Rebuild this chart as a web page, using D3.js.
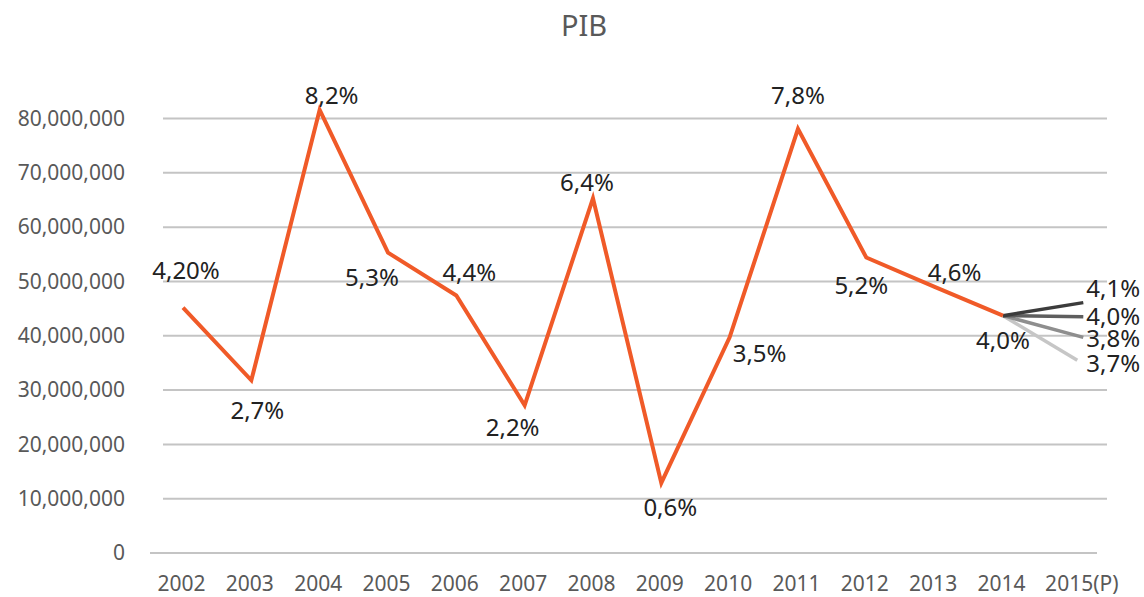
<!DOCTYPE html>
<html>
<head>
<meta charset="utf-8">
<script src="https://cdn.jsdelivr.net/npm/d3@7"></script>
<style>
  body { margin: 0; background: #fff; }
  text { font-family: "Noto Sans", "Open Sans", sans-serif; }
</style>
</head>
<body>
<div class="chart"></div>
<script>
const svgWidth = 1144
const svgHeight = 597

// ========================= DATA =========================
const years = ["2002", "2003", "2004", "2005", "2006", "2007", "2008", "2009", "2010", "2011", "2012", "2013", "2014", "2015(P)"]
const pib = [45.2e6, 31.8e6, 81.6e6, 55.3e6, 47.4e6, 27.2e6, 65.3e6, 12.9e6, 39.7e6, 78.1e6, 54.4e6, 49.0e6, 43.7e6]
const growthLabels = ["4,20%", "2,7%", "8,2%", "5,3%", "4,4%", "2,2%", "6,4%", "0,6%", "3,5%", "7,8%", "5,2%", "4,6%", "4,0%"]
const projValues = [46.1e6, 43.5e6, 39.7e6, 35.5e6]
const projLabels = ["4,1%", "4,0%", "3,8%", "3,7%"]
const yTicks = [0, 10e6, 20e6, 30e6, 40e6, 50e6, 60e6, 70e6, 80e6]

// label placement relative to each point (layout only)
const labelOffsets = [[3, -37], [6, 30], [12, -14], [-16, 25], [13, -23], [-12, 22], [-6, -16],
  [9, 25], [30, 16], [0, -33], [-5, 28], [20, -14], [0, 25]]
const projLabelShift = [-14, 0, 1, 3]
const projColors = ["#3c3c3c", "#5e5e5e", "#8e8e8e", "#c6c6c6"]
const projShift = 12

let svg = d3.select(".chart")
  .append("svg")
  .attr("width", svgWidth)
  .attr("height", svgHeight)

let x = d3.scalePoint()
  .domain(years)
  .range([183, 183 + 13 * 68.33])

let y = d3.scaleLinear()
  .domain([0, 80e6])
  .range([553, 118.5])

// title
svg.append("text")
  .attr("x", 584)
  .attr("y", 26)
  .attr("dy", "0.35em")
  .attr("text-anchor", "middle")
  .attr("fill", "#595959")
  .style("font-size", "29px")
  .text("PIB")

// gridlines
svg.append("g")
  .selectAll("line")
  .data(yTicks)
  .enter()
  .append("line")
  .attr("x1", d => d === 0 ? 150 : 163)
  .attr("x2", d => d === 0 ? 1097 : 1107)
  .attr("y1", d => y(d))
  .attr("y2", d => y(d))
  .attr("stroke", "#c4c4c4")
  .attr("stroke-width", 2)

// y axis labels
let yAxis = d3.axisLeft(y)
  .tickValues(yTicks)
  .tickSize(0)
  .tickPadding(0)
  .tickFormat(d3.format(",d"))

svg.append("g")
  .attr("transform", "translate(125,0)")
  .call(yAxis)
  .call(g => g.select(".domain").remove())
  .selectAll("text")
  .attr("fill", "#595959")
  .style("font-size", "21px")
  .style("font-family", "'Noto Sans', sans-serif")

// x axis labels
let xAxis = d3.axisBottom(x)
  .tickSize(0)
  .tickPadding(0)

svg.append("g")
  .attr("transform", "translate(-2,576)")
  .call(xAxis)
  .call(g => g.select(".domain").remove())
  .selectAll("text")
  .attr("fill", "#595959")
  .attr("dx", d => d === "2015(P)" ? projShift : 0)
  .style("font-size", "21px")
  .style("font-family", "'Noto Sans', sans-serif")

// projection lines from 2014
let last = years.length - 2
let projGroup = svg.append("g")
projValues.slice().reverse().forEach((v, ri) => {
  let i = projValues.length - 1 - ri
  projGroup.append("line")
    .attr("x1", x(years[last]))
    .attr("y1", y(pib[last]))
    .attr("x2", x(years[last + 1]) + projShift - (i === 3 ? 6 : 0))
    .attr("y2", y(v))
    .attr("stroke", projColors[i])
    .attr("stroke-width", 3.5)
})

projGroup.selectAll("text")
  .data(projValues)
  .enter()
  .append("text")
  .attr("x", x(years[last + 1]) + projShift + 3)
  .attr("y", (d, i) => y(d) + projLabelShift[i])
  .attr("dy", "0.35em")
  .attr("fill", "#222")
  .style("font-size", "24px")
  .text((d, i) => projLabels[i])

// main line
let line = d3.line()
  .x((d, i) => x(years[i]))
  .y(d => y(d))

svg.append("path")
  .datum(pib)
  .attr("d", line)
  .attr("fill", "none")
  .attr("stroke", "#f05a28")
  .attr("stroke-width", 4)
  .attr("stroke-linejoin", "miter")

// data labels
svg.append("g")
  .selectAll("text")
  .data(pib)
  .enter()
  .append("text")
  .attr("x", (d, i) => x(years[i]) + labelOffsets[i][0])
  .attr("y", (d, i) => y(d) + labelOffsets[i][1])
  .attr("dy", "0.35em")
  .attr("text-anchor", "middle")
  .attr("fill", "#222")
  .style("font-size", "24px")
  .text((d, i) => growthLabels[i])
</script>
</body>
</html>
